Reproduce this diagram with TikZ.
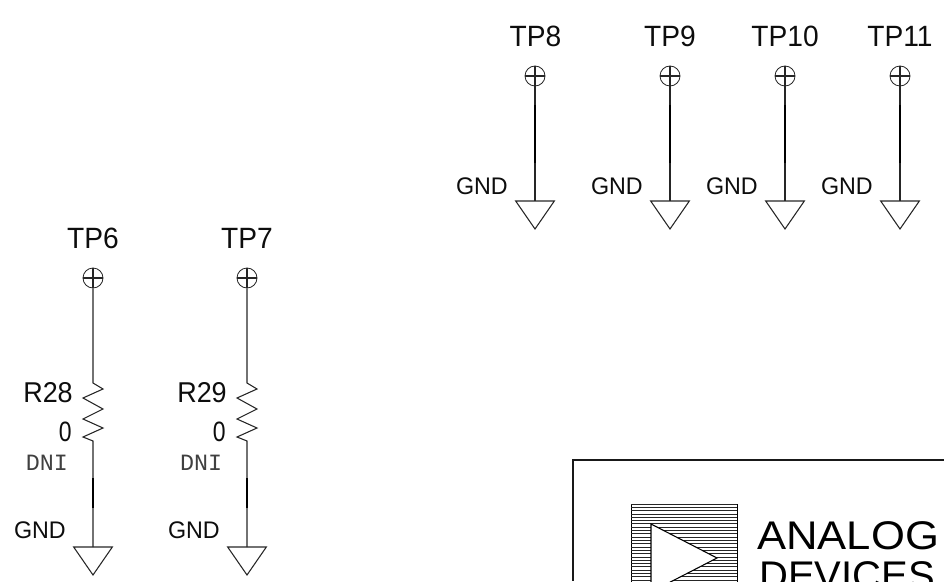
\documentclass[tikz,border=0pt]{standalone}
\usepackage{fontspec}
\setmainfont{Liberation Sans}
\setmonofont{Liberation Mono}
\tikzset{
  x=0.75pt,y=-0.75pt,
  wire/.style={line width=0.8pt,black!85},
  heavy/.style={line width=1.3pt,black},
  tpcircle/.style={circle,draw,line width=0.6pt,black!85,minimum size=15pt,inner sep=0pt},
  txt/.style={inner sep=0pt,anchor=base,text=black!95},
  tplabel/.style={txt,font=\fontsize{22}{22}\selectfont},
  gndlabel/.style={txt,anchor=base east,font=\fontsize{18}{18}\selectfont},
  reflabel/.style={txt,anchor=base east,font=\fontsize{21.5}{22}\selectfont},
  vallabel/.style={txt,anchor=base east,font=\fontsize{21}{21}\selectfont},
  dnilabel/.style={txt,anchor=base,text=black!75,font=\ttfamily\fontsize{17.5}{18}\selectfont},
  logotext/.style={inner sep=0pt,anchor=base west,font=\fontsize{30}{30}\selectfont},
}
\newcommand{\tight}[2]{\scalebox{#1}[1]{#2}}
\begin{document}
\begin{tikzpicture}
\useasboundingbox (0,0) rectangle (944,581);
\clip (0,0) rectangle (944,581);
% Test points without resistor
\foreach \n/\xx/\lx in {8/535/535.5,9/670/670,10/785/785,11/900/900}{
  \node[tplabel] (tp\n) at (\lx,47) {\tight{0.96}{TP\n}};
  \node[tpcircle] (c\n) at (\xx,76) {};
  \draw[wire] (c\n.north) -- (c\n.south);
  \draw[wire] (c\n.west) -- (c\n.east);
  \coordinate (g\n) at (\xx,201);
  \coordinate (ta\n) at (\xx,105);
  \coordinate (tb\n) at (\xx,163);
  \draw[wire] (c\n.south) -- (g\n);
  \draw[heavy] (ta\n) -- (tb\n);
  \draw[wire,line join=miter] ([xshift=-14.5pt]g\n) -- ([xshift=14.5pt]g\n) -- ([yshift=-21pt]g\n) -- cycle;
  \node[gndlabel] (gl\n) at (\xx-27,194) {\tight{0.97}{GND}};
}
% Test points with resistor
\foreach \n/\xx/\r in {6/93/28,7/247/29}{
  \node[tplabel] (tp\n) at (\xx,248) {\tight{0.96}{TP\n}};
  \node[tpcircle] (c\n) at (\xx,278) {};
  \draw[wire] (c\n.north) -- (c\n.south);
  \draw[wire] (c\n.west) -- (c\n.east);
  \coordinate (ra\n) at (\xx,383);
  \coordinate (rb\n) at (\xx,441);
  \coordinate (g\n) at (\xx,547);
  \coordinate (ta\n) at (\xx,478);
  \coordinate (tb\n) at (\xx,508);
  \draw[wire] (c\n.south) -- (ra\n)
    -- (\xx+10,389) -- (\xx-10,398) -- (\xx+10,409)
    -- (\xx-10,419) -- (\xx+10,428) -- (\xx-10,437) -- (rb\n) -- (g\n);
  \draw[heavy] (ta\n) -- (tb\n);
  \draw[wire,line join=miter] ([xshift=-14.5pt]g\n) -- ([xshift=14.5pt]g\n) -- ([yshift=-21pt]g\n) -- cycle;
  \node[gndlabel] (gl\n) at (\xx-27,538) {\tight{0.97}{GND}};
  \node[reflabel] (rl\n) at (\xx-20,402) {\tight{0.94}{R\r}};
  \node[vallabel] (vl\n) at (\xx-21,441) {\tight{0.82}{0}};
  \node[dnilabel] (dl\n) at (\xx-46,470) {DNI};
}
% Title block and logo
\draw[line width=1.3pt,black!90] (944,460) -- (573,460) -- (573,581);
\draw[line width=0.6pt] (631,504) rectangle (737,610);
\foreach \i in {0,...,32}{
  \draw[line width=0.6pt,black!85] (631,504+3.31*\i) -- (737,504+3.31*\i);
}
\draw[line width=0.8pt,fill=white] (651,524) -- (717,558) -- (651,592) -- cycle;
\node[logotext] (an) at (757,549) {\tight{1.09}{ANALOG}};
\node[logotext] (de) at (759,589) {\tight{1.0}{DEVICES}};
\end{tikzpicture}
\end{document}
